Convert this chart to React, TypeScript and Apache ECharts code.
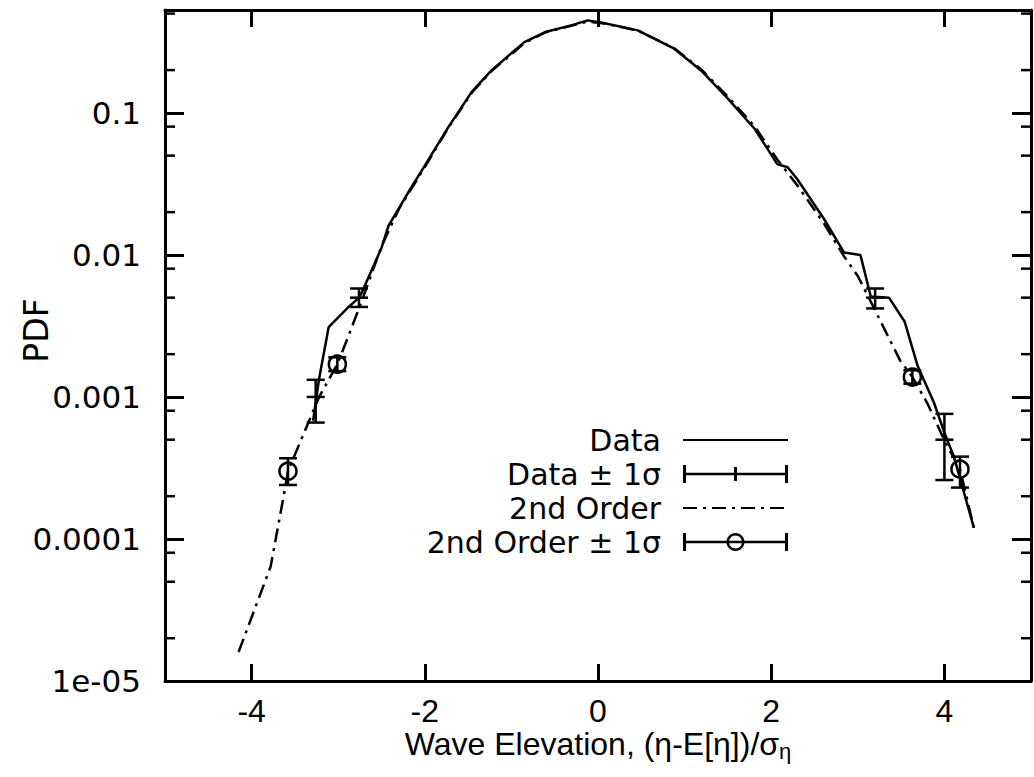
import React, { useEffect, useRef } from 'react';
import * as echarts from 'echarts';

// ---- data ----
const dataX = [-3.29, -3.22, -3.11, -2.88, -2.76, -2.73, -2.5, -2.42, -2.19, -2.0, -1.73, -1.46, -1.23, -0.85, -0.61, -0.31, -0.12, 0.05, 0.46, 0.88, 1.19, 1.5, 1.81, 2.07, 2.19, 2.3, 2.61, 2.84, 3.03, 3.15, 3.36, 3.54, 3.69, 3.88, 4.0, 4.11, 4.34];
const dataPdf = [6.8e-4, 1.35e-3, 3.1e-3, 4.3e-3, 5.0e-3, 5.4e-3, 1.12e-2, 1.6e-2, 2.76e-2, 4.25e-2, 7.9e-2, 0.14, 0.199, 0.315, 0.371, 0.413, 0.448, 0.431, 0.381, 0.283, 0.199, 0.126, 0.077, 0.0436, 0.0414, 0.0342, 0.0179, 0.0104, 0.01, 5.1e-3, 5.0e-3, 3.4e-3, 1.66e-3, 9.1e-4, 5.6e-4, 3.8e-4, 1.2e-4];

const secondX = [-4.15, -3.78, -3.63, -3.58, -3.22, -3.01, -2.88, -2.73, -2.5, -2.3, -2.0, -1.73, -1.46, -1.23, -0.85, -0.61, -0.31, -0.12, 0.05, 0.46, 0.88, 1.19, 1.5, 1.81, 2.07, 2.3, 2.61, 2.84, 3.0, 3.08, 3.49, 3.63, 3.8, 4.01, 4.18, 4.34];
const secondPdf = [1.6e-5, 6.4e-5, 2.0e-4, 3.0e-4, 1.0e-3, 1.7e-3, 2.7e-3, 4.7e-3, 1.15e-2, 2.1e-2, 4.15e-2, 7.8e-2, 0.138, 0.197, 0.31, 0.368, 0.41, 0.44, 0.428, 0.38, 0.285, 0.203, 0.13, 0.08, 0.047, 0.031, 0.0166, 0.0098, 7.1e-3, 5.7e-3, 1.8e-3, 1.38e-3, 9.1e-4, 4.8e-4, 3.1e-4, 1.2e-4];

const dataErrX = [-3.26, -2.76, 3.2, 4.0];
const dataErrY = [1.0e-3, 5.0e-3, 5.0e-3, 5.0e-4];
const dataErrLow = [6.6e-4, 4.3e-3, 4.2e-3, 2.6e-4];
const dataErrHigh = [1.32e-3, 5.8e-3, 5.8e-3, 7.6e-4];

const secondErrX = [-3.58, -3.01, 3.63, 4.18];
const secondErrY = [3.0e-4, 1.7e-3, 1.38e-3, 3.1e-4];
const secondErrLow = [2.4e-4, 1.52e-3, 1.24e-3, 2.3e-4];
const secondErrHigh = [3.7e-4, 1.9e-3, 1.54e-3, 3.8e-4];

const xTickValues = [-4, -2, 0, 2, 4];
const yTickValues = [1e-5, 1e-4, 1e-3, 1e-2, 1e-1];
const yTickLabels = ['1e-05', '0.0001', '0.001', '0.01', '0.1'];
const yMinorTicks = [2e-5, 5e-5, 8e-5, 2e-4, 5e-4, 8e-4, 2e-3, 5e-3, 8e-3, 2e-2, 5e-2, 8e-2, 0.2, 0.5];

const X_MIN = -5;
const X_MAX = 5;
const Y_MIN = 1e-5;
const Y_MAX = 0.53;

const legendNames = ['Data', 'Data ± 1σ', '2nd Order', '2nd Order ± 1σ'];

const SANS = "'Liberation Sans', Arial, Helvetica, sans-serif";
const DEJAVU = "'DejaVu Sans', sans-serif";

const ICON_BAR =
  'path://M0,0H3V18H0Z M102,0H105V18H102Z M0,7.8H105V10.2H0Z M51,2H54V16H51Z';
const ICON_CIRCLE =
  'path://M0,0H3V18H0Z M102,0H105V18H102Z M0,7.8H105V10.2H0Z' +
  ' M43.5,9C43.5,4.029 47.529,0 52.5,0C57.471,0 61.5,4.029 61.5,9C61.5,13.971 57.471,18 52.5,18C47.529,18 43.5,13.971 43.5,9Z' +
  ' M46,9C46,12.59 48.91,15.5 52.5,15.5C56.09,15.5 59,12.59 59,9C59,5.41 56.09,2.5 52.5,2.5C48.91,2.5 46,5.41 46,9Z';

function makeErrRender(kind: 'bar' | 'circle') {
  return (params: any, api: any) => {
    const x = api.value(0);
    const c = api.coord([x, api.value(1)]);
    const lo = api.coord([x, api.value(2)]);
    const hi = api.coord([x, api.value(3)]);
    const w = 9;
    const style = { stroke: '#000', lineWidth: 2.5, fill: 'none' };
    const children: any[] = [
      { type: 'line', shape: { x1: c[0], y1: lo[1], x2: c[0], y2: hi[1] }, style },
      { type: 'line', shape: { x1: c[0] - w, y1: lo[1], x2: c[0] + w, y2: lo[1] }, style },
      { type: 'line', shape: { x1: c[0] - w, y1: hi[1], x2: c[0] + w, y2: hi[1] }, style },
    ];
    if (kind === 'bar') {
      children.push({ type: 'line', shape: { x1: c[0] - w, y1: c[1], x2: c[0] + w, y2: c[1] }, style });
    } else {
      children.push({ type: 'circle', shape: { cx: c[0], cy: c[1], r: 8.5 }, style });
    }
    return { type: 'group', children };
  };
}

function minorTickRender(params: any, api: any) {
  const v = api.value(1);
  const a = api.coord([api.value(0), v]);
  const b = api.coord([api.value(2), v]);
  const style = { stroke: '#000', lineWidth: 2.5 };
  return {
    type: 'group',
    children: [
      { type: 'line', shape: { x1: a[0], y1: a[1], x2: a[0] + 10, y2: a[1] }, style },
      { type: 'line', shape: { x1: b[0], y1: b[1], x2: b[0] - 10, y2: b[1] }, style },
    ],
  };
}

function yLabel(v: number) {
  const l = Math.log10(v);
  for (let i = 0; i < yTickValues.length; i++) {
    if (Math.abs(Math.log10(yTickValues[i]) - l) < 1e-6) return yTickLabels[i];
  }
  return '';
}

export default function App() {
  const ref = useRef<HTMLDivElement>(null);
  useEffect(() => {
    if (!ref.current) return;
    const chart = echarts.init(ref.current, null, { renderer: 'svg' });
    const axisLine = { show: true, onZero: false, lineStyle: { color: '#000', width: 3 } };
    const hiddenMarker = { opacity: 0 };
    const option: any = {
      animation: false,
      backgroundColor: '#fff',
      grid: { left: 165, right: 3, top: 10, bottom: 96, containLabel: false, outerBoundsMode: 'none' },
      legend: {
        data: [
          { name: legendNames[0], itemStyle: hiddenMarker },
          { name: legendNames[1], icon: ICON_BAR },
          { name: legendNames[2], itemStyle: hiddenMarker },
          { name: legendNames[3], icon: ICON_CIRCLE },
        ],
        orient: 'vertical',
        align: 'right',
        right: 240,
        top: 418,
        itemWidth: 105,
        itemHeight: 18,
        itemGap: 0,
        selectedMode: false,
        textStyle: {
          fontFamily: DEJAVU,
          fontSize: 30,
          lineHeight: 34,
          color: '#000',
          padding: [0, 17, 0, 0],
        },
      },
      xAxis: [
        {
          type: 'value',
          min: X_MIN,
          max: X_MAX,
          position: 'bottom',
          splitLine: { show: false },
          axisLine,
          axisTick: { inside: true, length: 17, customValues: xTickValues, lineStyle: { color: '#000', width: 3 } },
          axisLabel: {
            customValues: xTickValues,
            margin: 14,
            color: '#000',
            fontFamily: SANS,
            fontSize: 32,
          },
          name: '{a|Wave Elevation, (η-E[η])/σ}{s|η}',
          nameLocation: 'middle',
          nameGap: 47,
          nameMoveOverlap: false,
          nameTextStyle: {
            rich: {
              a: { fontFamily: SANS, fontSize: 32, lineHeight: 34, verticalAlign: 'top', color: '#000' },
              s: { fontFamily: SANS, fontSize: 22, lineHeight: 22, padding: [18, 0, 0, 0], verticalAlign: 'bottom', color: '#000' },
            },
          },
        },
        {
          type: 'value',
          min: X_MIN,
          max: X_MAX,
          position: 'top',
          splitLine: { show: false },
          axisLine,
          axisTick: { inside: true, length: 17, customValues: xTickValues, lineStyle: { color: '#000', width: 3 } },
          axisLabel: { show: false },
        },
      ],
      yAxis: [
        {
          type: 'log',
          logBase: 10,
          min: Y_MIN,
          max: Y_MAX,
          position: 'left',
          splitLine: { show: false },
          minorTick: { show: false },
          axisLine,
          axisTick: { inside: true, length: 19, lineStyle: { color: '#000', width: 3 } },
          axisLabel: {
            formatter: yLabel,
            margin: 24,
            color: '#000',
            fontFamily: DEJAVU,
            fontSize: 31,
          },
          name: 'PDF',
          nameLocation: 'middle',
          nameRotate: 90,
          nameGap: 112,
          nameMoveOverlap: false,
          nameTextStyle: { fontFamily: DEJAVU, fontSize: 33, color: '#000', padding: [0, 0, 0, 30] },
        },
        {
          type: 'log',
          logBase: 10,
          min: Y_MIN,
          max: Y_MAX,
          position: 'right',
          splitLine: { show: false },
          axisLine,
          axisTick: { inside: true, length: 19, lineStyle: { color: '#000', width: 3 } },
          axisLabel: { show: false },
        },
      ],
      series: [
        {
          name: legendNames[0],
          type: 'line',
          data: dataX.map((x, i) => [x, dataPdf[i]]),
          symbol: 'none',
          lineStyle: { color: '#000', width: 2.5 },
          itemStyle: { color: '#000' },
          z: 3,
        },
        {
          name: legendNames[1],
          type: 'custom',
          renderItem: makeErrRender('bar'),
          data: dataErrX.map((x, i) => [x, dataErrY[i], dataErrLow[i], dataErrHigh[i]]),
          encode: { x: 0, y: 1 },
          itemStyle: { color: '#000' },
          z: 4,
        },
        {
          name: legendNames[2],
          type: 'line',
          data: secondX.map((x, i) => [x, secondPdf[i]]),
          symbol: 'none',
          lineStyle: { color: '#000', width: 2.5, type: [14, 6, 3, 6] },
          itemStyle: { color: '#000' },
          z: 3,
        },
        {
          name: legendNames[3],
          type: 'custom',
          renderItem: makeErrRender('circle'),
          data: secondErrX.map((x, i) => [x, secondErrY[i], secondErrLow[i], secondErrHigh[i]]),
          encode: { x: 0, y: 1 },
          itemStyle: { color: '#000' },
          z: 4,
        },
        {
          name: 'minor ticks',
          type: 'custom',
          renderItem: minorTickRender,
          data: yMinorTicks.map((v) => [X_MIN, v, X_MAX]),
          encode: { x: 0, y: 1 },
          silent: true,
          z: 5,
        },
      ],
    };
    chart.setOption(option);
    return () => chart.dispose();
  }, []);
  return (
    <div
      ref={ref}
      style={{ position: 'absolute', left: 0, top: 0, width: 1034, height: 777, background: '#fff' }}
    />
  );
}
